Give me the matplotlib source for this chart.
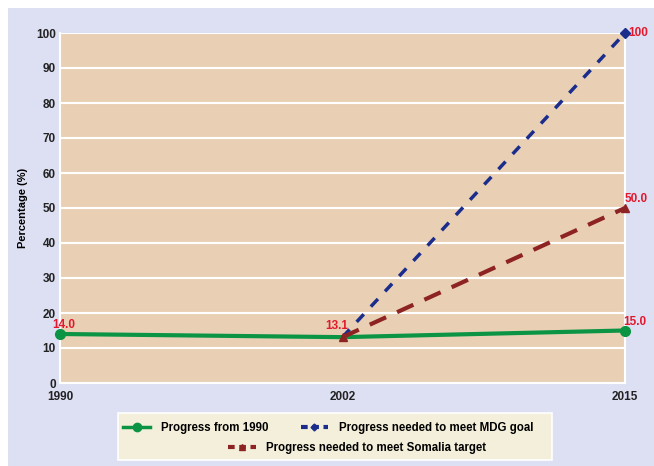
import matplotlib
matplotlib.use("Agg")
import matplotlib.pyplot as plt
from matplotlib.patches import Rectangle
from matplotlib.lines import Line2D

plt.rcParams["font.family"] = ["Liberation Sans", "DejaVu Sans"]

years = ["1990", "2002", "2015"]
progress = [14.0, 13.1, 15.0]
mdg_years = ["2002", "2015"]
mdg_need = [13.1, 100]
som_years = ["2002", "2015"]
som_need = [13.1, 50.0]
yticks = list(range(0, 101, 10))

green = "#0b9444"
navy = "#1b2d8c"
darkred = "#8e2323"
labelred = "#e3182d"

fig = plt.figure(figsize=(6.54, 4.66), dpi=100, facecolor="white")
fig.patches.append(Rectangle((8 / 654, 0), 1, 1 - 8 / 466, transform=fig.transFigure,
                             facecolor="#dde0f2", edgecolor="none", zorder=-10))

ax = fig.add_axes([60 / 654, 1 - 383 / 466, 565 / 654, 350 / 466])
ax.set_facecolor("#e9d0b5")
xpos = {y: i for i, y in enumerate(years)}

ax.set_xlim(0, 2)
ax.set_ylim(0, 100)
ax.set_yticks(yticks)
ax.set_xticks(range(len(years)))
ax.set_xticklabels(years)
ax.spines["top"].set_visible(False)
for side in ("left", "right", "bottom"):
    ax.spines[side].set_color("white")
    ax.spines[side].set_linewidth(1.5)
ax.grid(True, axis="y", color="white", lw=1.5)
ax.set_axisbelow(True)
ax.tick_params(length=0, labelsize=8.5)
ax.tick_params(axis="y", pad=3)
ax.tick_params(axis="x", pad=6)
for lab in ax.get_xticklabels() + ax.get_yticklabels():
    lab.set_fontweight("bold")
    lab.set_color("#222222")
ax.set_ylabel("Percentage (%)", fontsize=8, fontweight="bold", labelpad=6)

xs = [xpos[y] for y in years]
ax.plot(xs, progress, color=green, lw=3, zorder=3, clip_on=False)
ax.plot([xs[0], xs[2]], [progress[0], progress[2]], color=green, marker="o", ms=7,
        lw=0, zorder=5, clip_on=False)
ax.plot([xpos[y] for y in mdg_years], mdg_need, color=navy, lw=2.5, ls=(0, (3, 3)),
        marker="D", ms=5, markevery=[1], zorder=4, clip_on=False)
ax.plot([xpos[y] for y in som_years], som_need, color=darkred, lw=3, ls=(0, (4.3, 2.9)),
        marker="^", ms=6, zorder=4, clip_on=False)

lab_kw = dict(color=labelred, fontsize=8.5, fontweight="bold", va="center", ha="left")
ax.text(-0.026, 16.6, "14.0", **lab_kw)
ax.text(0.94, 16.3, "13.1", **lab_kw)
ax.text(1.995, 17.4, "15.0", **lab_kw)
ax.text(2.0, 52.5, "50.0", **lab_kw)
ax.text(2.012, 100, "100", **lab_kw)

# legend box
fig.patches.append(Rectangle((118 / 654, 1 - 460 / 466), 434 / 654, 47 / 466,
                             transform=fig.transFigure, facecolor="#f4efda",
                             edgecolor="white", lw=1.2, zorder=1))
h1 = Line2D([], [], color=green, lw=2.5, marker="o", ms=6)
h2 = Line2D([], [], color=navy, lw=3, ls=(0, (1.6, 1.1)), marker="D", ms=3.5)
h3 = Line2D([], [], color=darkred, lw=3, ls=(0, (1.6, 1.1)), marker="^", ms=5)
leg_kw = dict(frameon=False, prop={"size": 8.3, "weight": "bold"}, handlelength=2.4,
              handletextpad=0.9, borderpad=0, borderaxespad=0)
lg1 = fig.legend([h1, h2], ["Progress from 1990", "Progress needed to meet MDG goal"],
                 loc="center", bbox_to_anchor=(328 / 654, 1 - 428 / 466), ncol=2,
                 columnspacing=2.8, **leg_kw)
lg2 = fig.legend([h3], ["Progress needed to meet Somalia target"],
                 loc="center", bbox_to_anchor=(357 / 654, 1 - 448 / 466), **leg_kw)
for lg in (lg1, lg2):
    lg.set_zorder(5)

fig.savefig("out.png", dpi=100, facecolor=fig.get_facecolor())
